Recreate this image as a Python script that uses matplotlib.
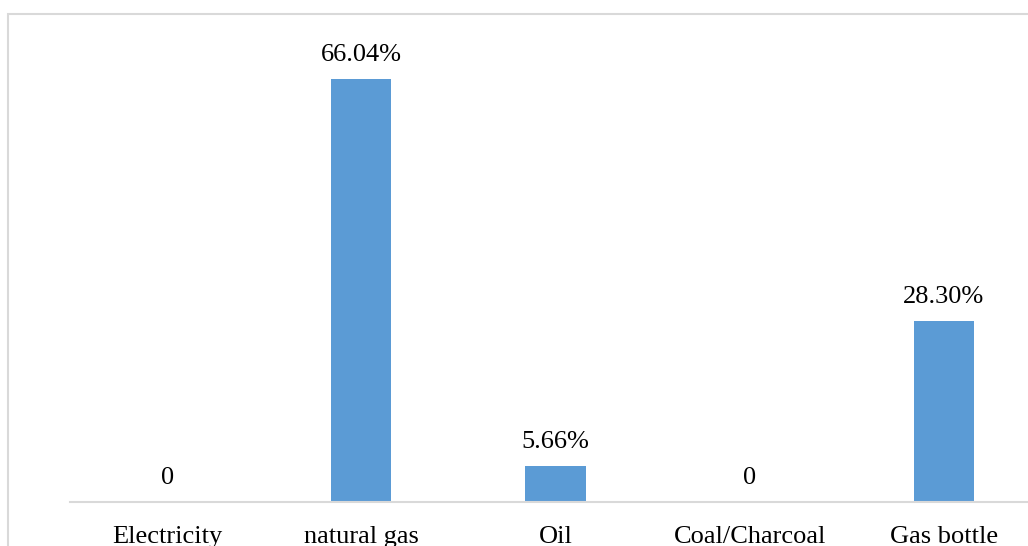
import numpy as np
import matplotlib.pyplot as plt
from matplotlib.patches import Rectangle

categories = ['Electricity', 'natural gas', 'Oil', 'Coal/Charcoal', 'Gas bottle']
shares = [0, 66.04, 5.66, 0, 28.30]

bar_color = '#5B9BD5'
grid_gray = '#D9D9D9'

W, H = 1028, 546
fig = plt.figure(figsize=(W / 100, H / 100), dpi=100)
plt.rcParams['font.family'] = ['Liberation Serif', 'DejaVu Serif']

# plot area in pixel terms, runs past the right edge of the canvas
left, right, base, top = 70, 1041, 502, 53.6
ax = fig.add_axes([left / W, (H - base) / H, (right - left) / W, (base - top) / H])

x = np.arange(len(categories))
ax.bar(x, shares, width=0.31, color=bar_color, zorder=2)
ax.set_xlim(-0.5, len(categories) - 0.5)
ax.set_ylim(0, 70)

for xi, v in zip(x, shares):
    label = f'{v:.2f}%' if v else '0'
    ax.annotate(label, (xi, v), xytext=(0, 9.5), textcoords='offset points',
                ha='center', va='bottom', fontsize=19, color='black')

ax.set_xticks(x)
ax.set_xticklabels(categories, fontsize=19)
ax.tick_params(axis='x', length=0, pad=17.5)
ax.set_yticks([])
for side in ['left', 'right', 'top']:
    ax.spines[side].set_visible(False)
ax.spines['bottom'].set_color(grid_gray)
ax.spines['bottom'].set_linewidth(1.5)

# outer chart frame, only its top and left edges fall inside the canvas
fig.patches.append(Rectangle((8 / W, -0.1), 1.2, (H - 14) / H + 0.1,
                             transform=fig.transFigure, fill=False,
                             edgecolor=grid_gray, linewidth=1.5))

fig.savefig('out.png', dpi=100)
